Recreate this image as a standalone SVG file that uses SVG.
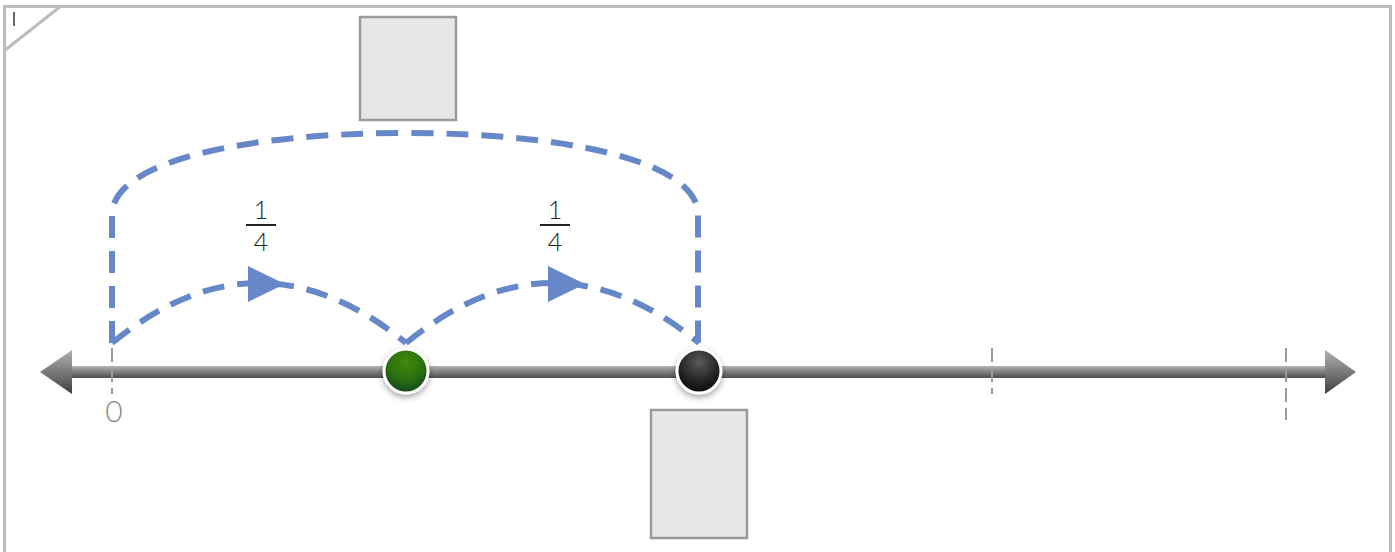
<svg xmlns="http://www.w3.org/2000/svg" width="1395" height="552" viewBox="0 0 1395 552">
<style>
.frame{fill:none;stroke:#bcbcbe;stroke-width:3}
.tick{stroke:#999;stroke-width:2;stroke-dasharray:14,6}
.box{fill:#e6e7e9;stroke:#9a9a9c;stroke-width:2.5}
.jump{fill:none;stroke:#6688c8;stroke-width:6;stroke-dasharray:22,13}
.tri{fill:#6688c8}
.num{font-family:Lato,"Liberation Sans",sans-serif;font-size:25px;fill:#222;text-anchor:middle;font-weight:300}
.lbl{font-family:Lato,"Liberation Sans",sans-serif;font-size:30px;fill:#8a8a8a;text-anchor:middle;font-weight:300}
</style>
<defs>
<linearGradient id="axisG" x1="0" y1="0" x2="0" y2="1">
<stop offset="0" stop-color="#b5b5b5"/><stop offset="0.5" stop-color="#7d7d7d"/><stop offset="1" stop-color="#4e4e4e"/>
</linearGradient>
<linearGradient id="headG" x1="0" y1="0" x2="0" y2="1">
<stop offset="0" stop-color="#b0b0b0"/><stop offset="0.5" stop-color="#7a7a7a"/><stop offset="1" stop-color="#3e3e3e"/>
</linearGradient>
<radialGradient id="greenG" cx="0.5" cy="0.3" r="0.7">
<stop offset="0" stop-color="#3f8a0e"/><stop offset="0.6" stop-color="#2a6e12"/><stop offset="1" stop-color="#0f4420"/>
</radialGradient>
<radialGradient id="blackG" cx="0.5" cy="0.3" r="0.7">
<stop offset="0" stop-color="#5a5a5a"/><stop offset="0.6" stop-color="#262626"/><stop offset="1" stop-color="#0a0a0a"/>
</radialGradient>
<filter id="sh" x="-50%" y="-50%" width="200%" height="200%">
<feDropShadow dx="0" dy="3" stdDeviation="3" flood-color="#000" flood-opacity="0.35"/>
</filter>
</defs>
<g id="frame">
<rect class="frame" x="4.5" y="6.5" width="1386" height="550"/>
<line class="frame" x1="4" y1="51" x2="61" y2="6"/>
<rect x="13" y="12" width="2" height="14" fill="#666"/>
</g>
<g id="axis">
<rect x="68" y="366" width="1262" height="12" fill="url(#axisG)"/>
<polygon points="40,372 72,350 72,394" fill="url(#headG)"/>
<polygon points="1356,372 1325,350 1325,394" fill="url(#headG)"/>
<line class="tick" x1="112" y1="348" x2="112" y2="394"/>
<line class="tick" x1="992" y1="348" x2="992" y2="394"/>
<line class="tick" x1="1286" y1="348" x2="1286" y2="420"/>
<text class="lbl" x="114" y="422">0</text>
</g>
<g id="connectors">
<path class="jump" d="M112,343 Q259,223 406,343"/>
<path class="jump" d="M406,343 Q553,223 699,343"/>
<path class="jump" d="M112,343 V215 C112,160 250,133 406,133 C562,133 698,160 698,215 V343"/>
<polygon class="tri" points="248,266 248,302 285,284"/>
<polygon class="tri" points="548,266 548,302 585,284"/>
</g>
<g id="label1">
<text class="num" x="261" y="219">1</text>
<line x1="246" y1="225" x2="276" y2="225" stroke="#222" stroke-width="2"/>
<text class="num" x="261" y="251">4</text>
</g>
<g id="label2">
<text class="num" x="555" y="219">1</text>
<line x1="540" y1="225" x2="570" y2="225" stroke="#222" stroke-width="2"/>
<text class="num" x="555" y="251">4</text>
</g>
<g id="boxTop"><rect class="box" x="360" y="17" width="96" height="103"/></g>
<g id="boxBottom"><rect class="box" x="651" y="410" width="96" height="128"/></g>
<g id="pointGreen"><circle cx="406" cy="371" r="22" fill="url(#greenG)" stroke="#fff" stroke-width="3" filter="url(#sh)"/></g>
<g id="pointBlack"><circle cx="699" cy="371" r="22" fill="url(#blackG)" stroke="#fff" stroke-width="3" filter="url(#sh)"/></g>
</svg>
